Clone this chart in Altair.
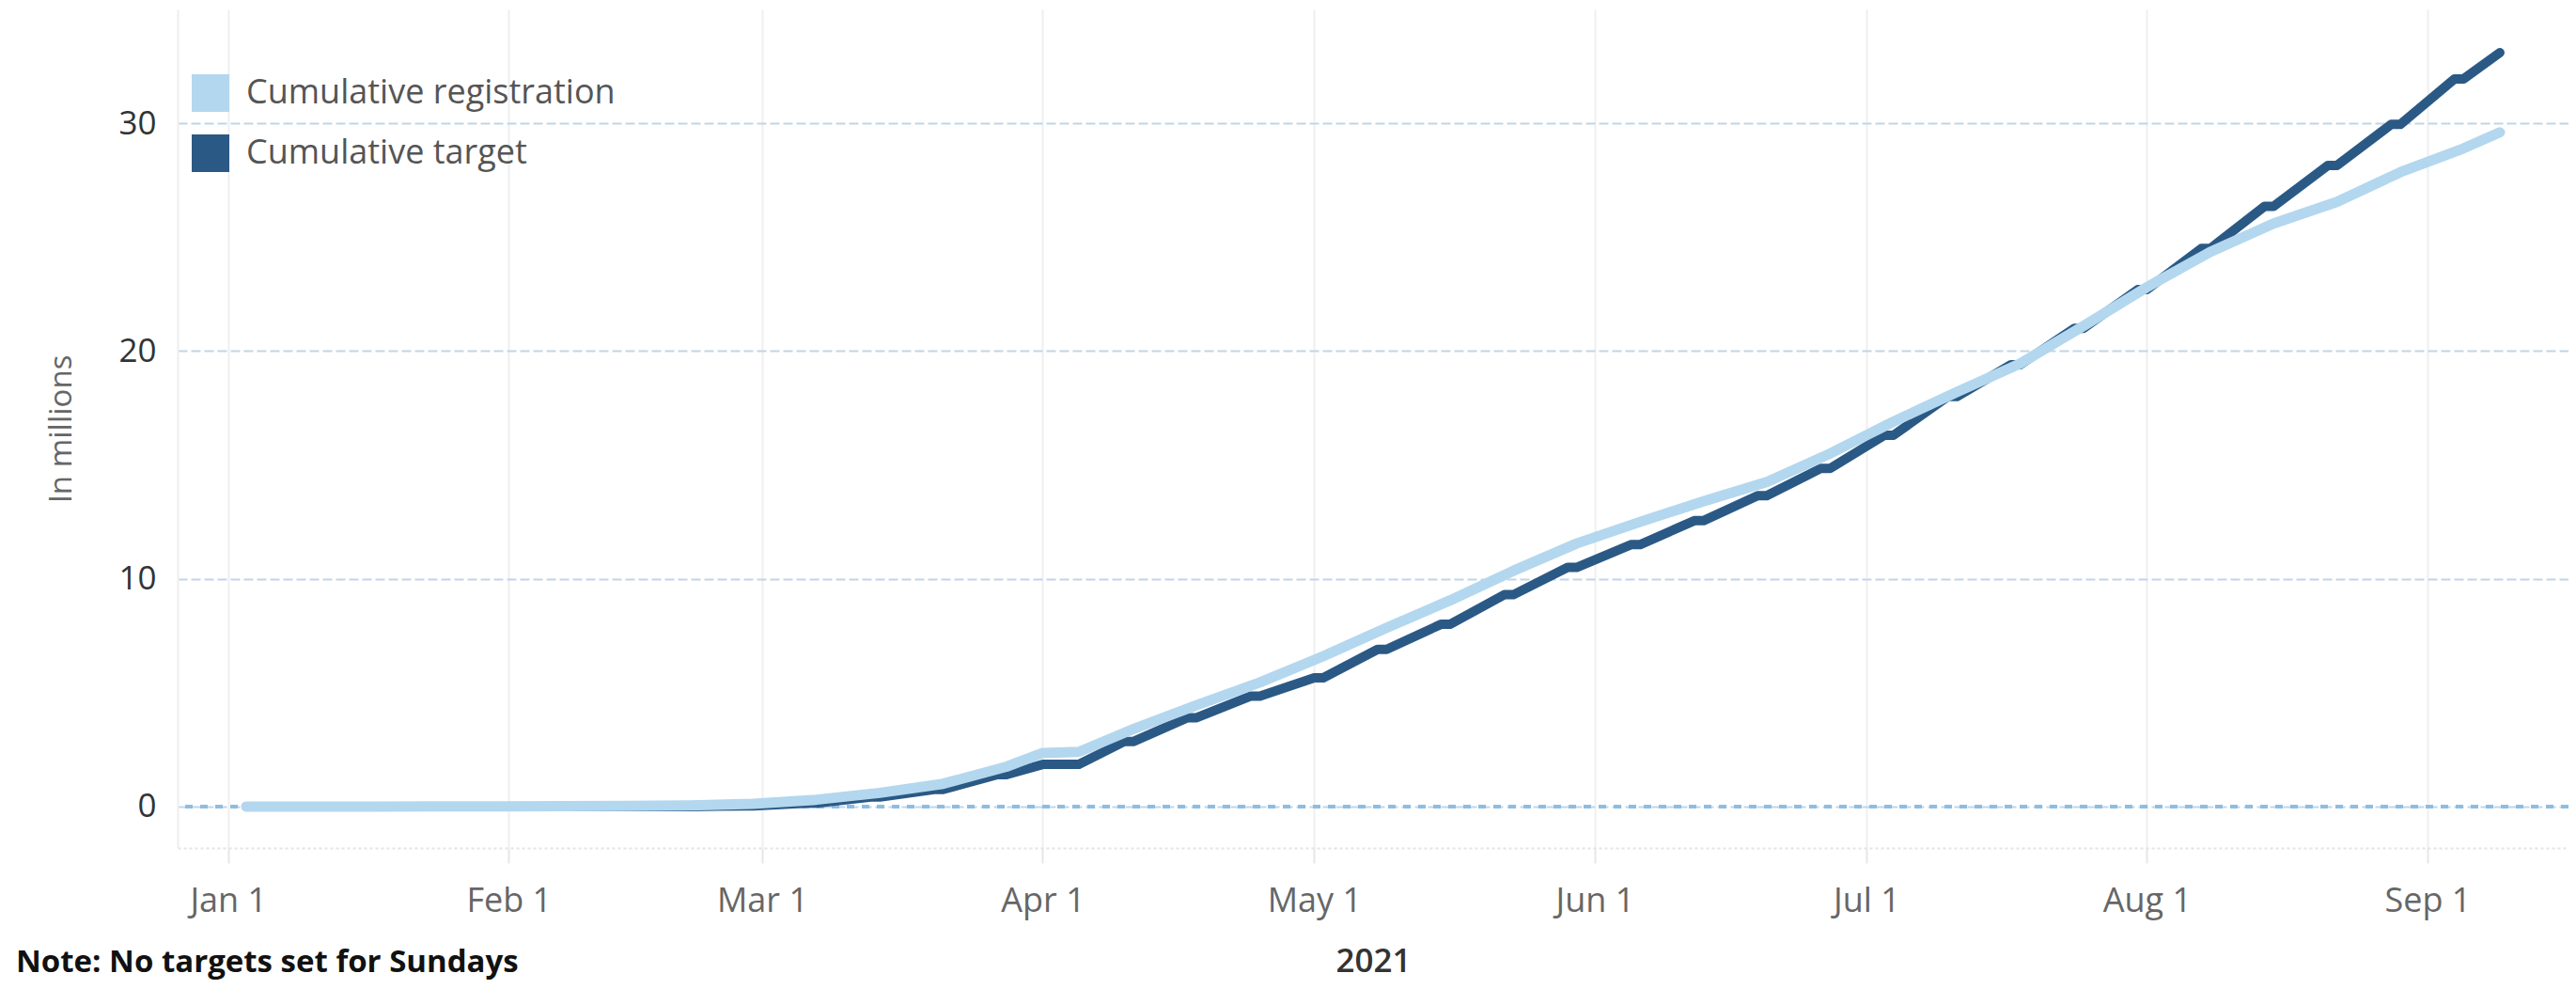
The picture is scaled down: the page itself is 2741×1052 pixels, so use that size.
import altair as alt
import pandas as pd

# ---------------- data (millions) ----------------
target_dates = [
    "2021-01-03", "2021-02-21", "2021-02-27", "2021-02-28",
    "2021-03-06", "2021-03-07", "2021-03-13", "2021-03-14",
    "2021-03-20", "2021-03-21", "2021-03-27", "2021-03-28",
    "2021-04-01", "2021-04-05", "2021-04-10", "2021-04-11",
    "2021-04-17", "2021-04-18", "2021-04-24", "2021-04-25",
    "2021-05-01", "2021-05-02", "2021-05-08", "2021-05-09",
    "2021-05-15", "2021-05-16", "2021-05-22", "2021-05-23",
    "2021-05-29", "2021-05-30", "2021-06-05", "2021-06-06",
    "2021-06-12", "2021-06-13", "2021-06-19", "2021-06-20",
    "2021-06-26", "2021-06-27", "2021-07-03", "2021-07-04",
    "2021-07-10", "2021-07-11", "2021-07-17", "2021-07-18",
    "2021-07-24", "2021-07-25", "2021-07-31", "2021-08-01",
    "2021-08-07", "2021-08-08", "2021-08-14", "2021-08-15",
    "2021-08-21", "2021-08-22", "2021-08-28", "2021-08-29",
    "2021-09-04", "2021-09-05", "2021-09-09",
]
target_values = [
    0.0, 0.0, 0.03, 0.03,
    0.15, 0.15, 0.42, 0.42,
    0.75, 0.75, 1.40, 1.40,
    1.85, 1.85, 2.85, 2.85,
    3.90, 3.90, 4.85, 4.85,
    5.65, 5.65, 6.90, 6.90,
    8.00, 8.00, 9.30, 9.30,
    10.50, 10.50, 11.50, 11.50,
    12.55, 12.55, 13.65, 13.65,
    14.85, 14.85, 16.30, 16.30,
    18.00, 18.00, 19.40, 19.40,
    21.00, 21.00, 22.70, 22.70,
    24.50, 24.50, 26.35, 26.35,
    28.15, 28.15, 29.95, 29.95,
    31.95, 31.95, 33.10,
]

reg_dates = [
    "2021-01-03", "2021-01-10", "2021-01-17", "2021-01-24", "2021-01-31",
    "2021-02-07", "2021-02-14", "2021-02-21", "2021-02-28", "2021-03-07",
    "2021-03-14", "2021-03-21", "2021-03-28", "2021-04-01", "2021-04-05",
    "2021-04-11", "2021-04-18", "2021-04-25", "2021-05-02", "2021-05-09",
    "2021-05-16", "2021-05-23", "2021-05-30", "2021-06-06", "2021-06-13",
    "2021-06-20", "2021-06-27", "2021-07-04", "2021-07-11", "2021-07-18",
    "2021-07-25", "2021-08-01", "2021-08-08", "2021-08-15", "2021-08-22",
    "2021-08-29", "2021-09-05", "2021-09-09",
]
reg_values = [
    0.0, 0.0, 0.0, 0.01, 0.01,
    0.02, 0.03, 0.05, 0.12, 0.30,
    0.60, 1.00, 1.75, 2.35, 2.40,
    3.40, 4.45, 5.45, 6.60, 7.85,
    9.05, 10.35, 11.55, 12.50, 13.40,
    14.25, 15.50, 16.90, 18.20, 19.45,
    21.10, 22.80, 24.35, 25.60, 26.55,
    27.85, 28.90, 29.60,
]

series_names = ["Cumulative registration", "Cumulative target"]
series_colors = ["#b3d7ee", "#2b5985"]
month_ticks = [1, 2, 3, 4, 5, 6, 7, 8, 9]
y_ticks = [0, 10, 20, 30]
zero_line = [0]

FONT = "Open Sans"

df_t = pd.DataFrame({"date": target_dates, "value": target_values, "series": series_names[1]})
df_r = pd.DataFrame({"date": reg_dates, "value": reg_values, "series": series_names[0]})
df_zero = pd.DataFrame({"value": zero_line})

x_enc = alt.X(
    "date:T",
    scale=alt.Scale(
        type="utc",
        domain=[
            alt.DateTime(year=2020, month=12, date=26, hours=10, utc=True),
            alt.DateTime(year=2021, month=9, date=16, hours=14, utc=True),
        ],
    ),
    axis=alt.Axis(
        values=[alt.DateTime(year=2021, month=m, date=1, utc=True) for m in month_ticks],
        labelExpr="utcFormat(datum.value, '%b %-d')",
        title="2021",
        grid=True,
        gridColor="#efefef",
        gridWidth=2,
        tickColor="#e6e6e6",
        tickSize=16,
        tickWidth=2,
        domainColor="#e4e4e4",
        domainWidth=2,
        domainDash=[3, 3],
        labelFont=FONT,
        labelFontSize=36,
        labelColor="#666666",
        labelPadding=23,
        labelOverlap=False,
        titleFont=FONT,
        titleFontSize=35,
        titleFontWeight=600,
        titleColor="#333333",
        titlePadding=29,
    ),
)

y_enc = alt.Y(
    "value:Q",
    scale=alt.Scale(domain=[-1.82, 35], nice=False, zero=False),
    axis=alt.Axis(
        values=y_ticks,
        title="In millions",
        grid=True,
        gridColor="#bfd6e8",
        gridDash=[10, 4],
        gridWidth=2,
        ticks=False,
        domainColor="#eeeeee",
        domainWidth=2,
        labelFont=FONT,
        labelFontSize=35,
        labelColor="#333333",
        labelPadding=23,
        titleFont=FONT,
        titleFontSize=33,
        titleFontWeight="normal",
        titleColor="#666666",
        titlePadding=43,
    ),
)

color_scale = alt.Scale(domain=series_names, range=series_colors)

legend_enc = alt.Color(
    "series:N",
    scale=color_scale,
    legend=alt.Legend(
        title=None,
        orient="none",
        legendX=15,
        legendY=69,
        symbolType="square",
        symbolSize=1600,
        symbolStrokeWidth=0,
        symbolOpacity=1,
        labelFont=FONT,
        labelFontSize=36,
        labelColor="#555555",
        labelOffset=18,
        labelLimit=0,
        rowPadding=24,
        padding=0,
    ),
)

zero_rule = alt.Chart(df_zero).mark_rule(
    color="#8fbde0", strokeDash=[8, 8], strokeWidth=4
).encode(y=alt.Y("value:Q"))

target_line = alt.Chart(df_t).mark_line(
    strokeWidth=10, strokeJoin="round", strokeCap="round"
).encode(x=x_enc, y=y_enc, color=alt.Color("series:N", scale=color_scale, legend=None))

reg_line = alt.Chart(df_r).mark_line(
    strokeWidth=11, strokeJoin="round", strokeCap="round"
).encode(x=alt.X("date:T"), y=alt.Y("value:Q"), color=alt.Color("series:N", legend=None))

# legend-only layer (no rows survive the filter; the legend comes from the colour scale domain)
legend_layer = alt.Chart(df_r).mark_square(filled=True, size=1600).encode(
    x=alt.X("date:T"), y=alt.Y("value:Q"), color=legend_enc
).transform_filter("datum.value < -100")

chart = (
    alt.layer(zero_rule, target_line, reg_line, legend_layer)
    .resolve_legend(color="independent")
    .properties(
        width=2544,
        height=892,
        autosize=alt.AutoSizeParams(type="none"),
        padding={"left": 181, "top": 2, "right": 0, "bottom": 141},
        background="white",
        title=alt.TitleParams(
            text="Note: No targets set for Sundays",
            orient="bottom",
            anchor="start",
            frame="group",
            font=FONT,
            fontSize=33,
            fontWeight="bold",
            color="#111111",
            dx=-172,
            dy=-36,
        ),
    )
    .configure_view(stroke=None)
)

chart.save("out.html", embed_options={"renderer": "svg", "actions": False})
